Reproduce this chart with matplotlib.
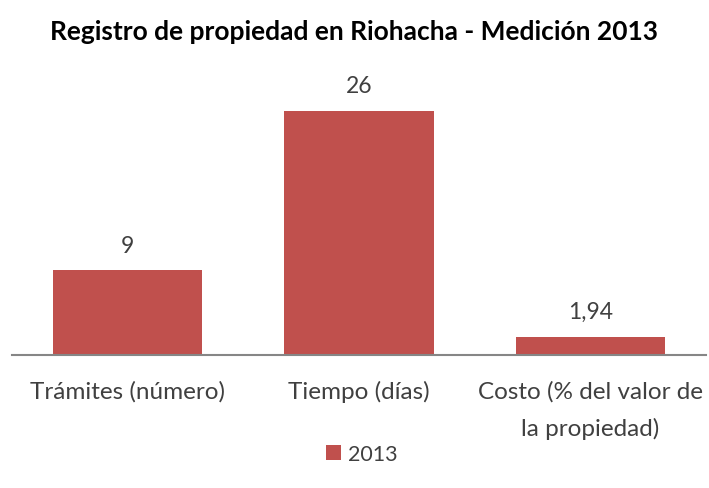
import matplotlib.pyplot as plt
import numpy as np

categorias = ["Trámites (número)", "Tiempo (días)", "Costo (% del valor de\nla propiedad)"]
valores = [9, 26, 1.94]
etiquetas = ["9", "26", "1,94"]
serie = "2013"
color = "#C0504D"

plt.rcParams["font.family"] = ["Lato", "DejaVu Sans"]

fig = plt.figure(figsize=(7.09, 4.89), dpi=100)
ax = fig.add_axes([12 / 709, 1 - 356 / 489, 694 / 709, 263 / 489])

x = np.arange(len(categorias))
bars = ax.bar(x, valores, width=0.645, color=color, label=serie)
for b, t in zip(bars, etiquetas):
    ax.text(b.get_x() + b.get_width() / 2, b.get_height() + 1.55, t,
            ha="center", va="bottom", fontsize=16.5, color="#404040")

ax.set_xlim(-0.5, 2.5)
ax.set_ylim(0, 28)
ax.set_yticks([])
ax.set_xticks(x)
ax.set_xticklabels(categorias, fontsize=17.5, color="#404040", linespacing=1.85)
ax.tick_params(axis="x", length=0, pad=18)
for s in ["top", "right", "left"]:
    ax.spines[s].set_visible(False)
ax.spines["bottom"].set_color("#868686")
ax.spines["bottom"].set_linewidth(1.5)

fig.suptitle("Registro de propiedad en Riohacha - Medición 2013",
             fontsize=19, fontweight="bold", y=0.96)
fig.legend(loc="center", bbox_to_anchor=(0.51, 1 - 455 / 489), frameon=False,
           fontsize=15.5, handlelength=0.7, handleheight=0.7, handletextpad=0.3,
           labelcolor="#404040")

fig.savefig("out.png", dpi=100)
